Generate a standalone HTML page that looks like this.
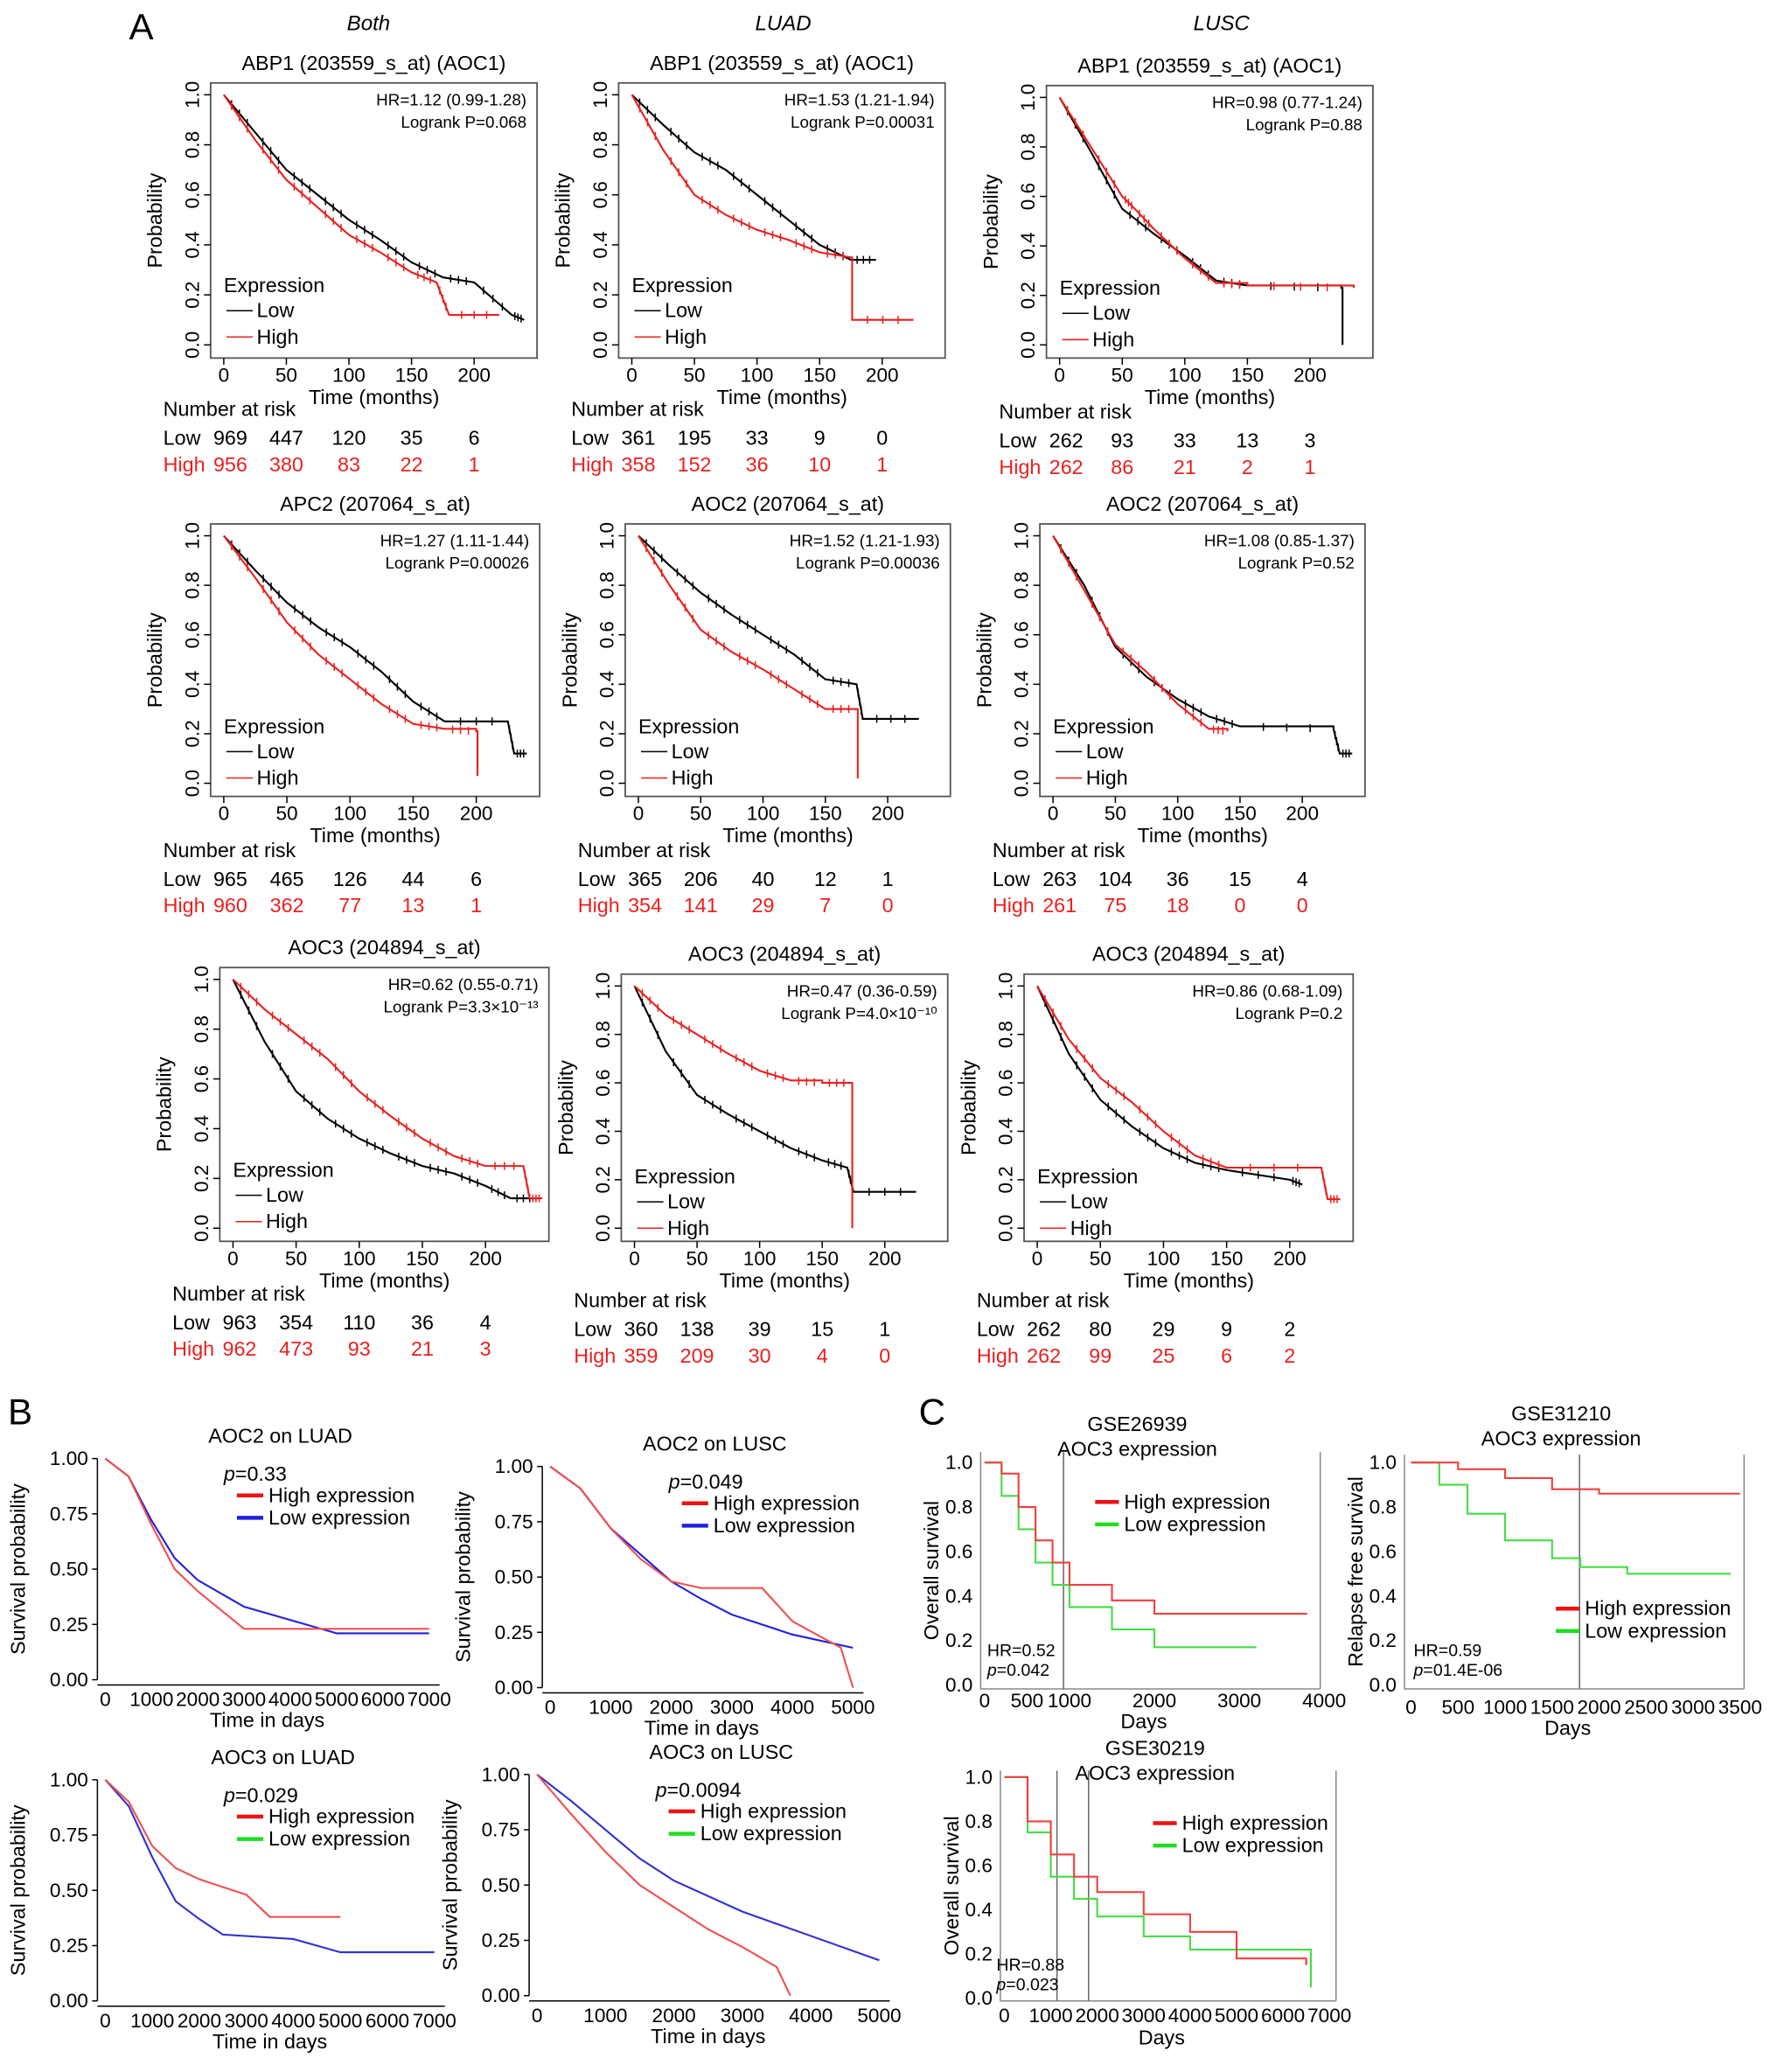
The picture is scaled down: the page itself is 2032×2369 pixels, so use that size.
<!DOCTYPE html>
<html><head><meta charset="utf-8"><style>
html,body{margin:0;padding:0;background:#fff}
svg{display:block;font-family:"Liberation Sans",sans-serif}
</style></head><body>
<svg id="fig" xmlns="http://www.w3.org/2000/svg" width="2032" height="2369" viewBox="0 0 1350 1574" preserveAspectRatio="none">
<text x="98" y="30" font-size="28">A</text>
<text x="280" y="23" font-size="16" font-style="italic" text-anchor="middle">Both</text>
<text x="595" y="23" font-size="16" font-style="italic" text-anchor="middle">LUAD</text>
<text x="928" y="23" font-size="16" font-style="italic" text-anchor="middle">LUSC</text>
<text x="6" y="1082" font-size="28">B</text>
<text x="698" y="1082" font-size="28">C</text>
</svg>
<script>
// ---- Panel A data (time months, survival) ----
const a11Low=[[0,1],[25,0.85],[50,0.7],[75,0.6],[100,0.5],[125,0.42],[150,0.33],[175,0.27],[200,0.25],[230,0.12],[240,0.1]];
const a11High=[[0,1],[25,0.82],[50,0.66],[75,0.55],[100,0.44],[125,0.37],[150,0.29],[170,0.25],[180,0.12],[220,0.12]];
const a12Low=[[0,1],[25,0.88],[50,0.77],[75,0.7],[100,0.6],[125,0.5],[150,0.4],[175,0.34],[195,0.34]];
const a12High=[[0,1],[25,0.78],[50,0.6],[75,0.52],[100,0.46],[125,0.42],[150,0.37],[175,0.35],[176,0.1],[225,0.1]];
const a13Low=[[0,1],[25,0.78],[50,0.55],[75,0.45],[100,0.36],[125,0.26],[150,0.24],[225,0.23],[226,0]];
const a13High=[[0,1],[25,0.8],[50,0.6],[60,0.55],[75,0.47],[100,0.35],[125,0.25],[150,0.24],[235,0.23]];
const a21Low=[[0,1],[25,0.86],[50,0.73],[75,0.63],[100,0.55],[125,0.45],[150,0.33],[175,0.25],[225,0.25],[230,0.12],[240,0.12]];
const a21High=[[0,1],[25,0.83],[50,0.65],[75,0.52],[100,0.42],[125,0.32],[150,0.24],[175,0.22],[200,0.21],[201,0.03]];
const a22Low=[[0,1],[25,0.88],[50,0.77],[75,0.68],[100,0.6],[125,0.52],[150,0.42],[175,0.4],[180,0.26],[225,0.26]];
const a22High=[[0,1],[25,0.8],[50,0.62],[75,0.53],[100,0.46],[125,0.38],[150,0.3],[175,0.3],[176,0.02]];
const a23Low=[[0,1],[25,0.8],[50,0.55],[75,0.43],[100,0.34],[125,0.27],[150,0.23],[225,0.22],[230,0.12],[240,0.12]];
const a23High=[[0,1],[25,0.78],[50,0.56],[75,0.45],[100,0.32],[125,0.22],[140,0.21]];
const a31Low=[[0,1],[25,0.75],[50,0.55],[75,0.44],[100,0.36],[125,0.3],[150,0.25],[175,0.22],[200,0.17],[220,0.12],[240,0.12]];
const a31High=[[0,1],[25,0.88],[50,0.78],[75,0.68],[100,0.55],[125,0.45],[150,0.36],[175,0.29],[200,0.25],[230,0.25],[235,0.12],[245,0.12]];
const a32Low=[[0,1],[25,0.73],[50,0.55],[75,0.47],[100,0.4],[125,0.33],[150,0.28],[170,0.25],[175,0.15],[225,0.15]];
const a32High=[[0,1],[25,0.88],[50,0.8],[75,0.72],[100,0.65],[125,0.61],[150,0.6],[173,0.6],[174,0]];
const a33Low=[[0,1],[25,0.72],[50,0.53],[75,0.42],[100,0.33],[125,0.27],[150,0.24],[200,0.2],[210,0.18]];
const a33High=[[0,1],[25,0.78],[50,0.62],[75,0.52],[100,0.4],[125,0.3],[150,0.25],[225,0.25],[230,0.12],[240,0.12]];
const riskLow=[[969,447,120,35,6],[361,195,33,9,0],[262,93,33,13,3],[965,465,126,44,6],[365,206,40,12,1],[263,104,36,15,4],[963,354,110,36,4],[360,138,39,15,1],[262,80,29,9,2]];
const riskHigh=[[956,380,83,22,1],[358,152,36,10,1],[262,86,21,2,1],[960,362,77,13,1],[354,141,29,7,0],[261,75,18,0,0],[962,473,93,21,3],[359,209,30,4,0],[262,99,25,6,2]];
const titlesA=["ABP1 (203559_s_at) (AOC1)","ABP1 (203559_s_at) (AOC1)","ABP1 (203559_s_at) (AOC1)","APC2 (207064_s_at)","AOC2 (207064_s_at)","AOC2 (207064_s_at)","AOC3 (204894_s_at)","AOC3 (204894_s_at)","AOC3 (204894_s_at)"];
const hrA=["HR=1.12 (0.99-1.28)","HR=1.53 (1.21-1.94)","HR=0.98 (0.77-1.24)","HR=1.27 (1.11-1.44)","HR=1.52 (1.21-1.93)","HR=1.08 (0.85-1.37)","HR=0.62 (0.55-0.71)","HR=0.47 (0.36-0.59)","HR=0.86 (0.68-1.09)"];
const pA=["Logrank P=0.068","Logrank P=0.00031","Logrank P=0.88","Logrank P=0.00026","Logrank P=0.00036","Logrank P=0.52","Logrank P=3.3\u00d710\u207b\u00b9\u00b3","Logrank P=4.0\u00d710\u207b\u00b9\u2070","Logrank P=0.2"];
const ticksA=[0,50,100,150,200];
const yTicksA=[0,0.2,0.4,0.6,0.8,1.0];
// ---- Panel B data (days) ----
const b1High=[[0,1],[500,0.92],[1000,0.7],[1500,0.5],[2000,0.4],[3000,0.23],[7000,0.23]];
const b1Low=[[0,1],[500,0.92],[1000,0.72],[1500,0.55],[2000,0.45],[3000,0.33],[5000,0.21],[7000,0.21]];
const b2High=[[0,1],[500,0.9],[1000,0.72],[1500,0.58],[2000,0.48],[2500,0.45],[3500,0.45],[4000,0.3],[4800,0.18],[5000,0]];
const b2Low=[[0,1],[500,0.9],[1000,0.72],[1500,0.6],[2000,0.48],[2500,0.4],[3000,0.33],[4000,0.24],[5000,0.18]];
const b3High=[[0,1],[500,0.9],[1000,0.7],[1500,0.6],[2000,0.55],[3000,0.48],[3500,0.38],[5000,0.38]];
const b3Low=[[0,1],[500,0.88],[1000,0.65],[1500,0.45],[2000,0.37],[2500,0.3],[4000,0.28],[5000,0.22],[7000,0.22]];
const b4High=[[0,1],[500,0.82],[1000,0.65],[1500,0.5],[2000,0.4],[2500,0.3],[3000,0.22],[3500,0.13],[3700,0]];
const b4Low=[[0,1],[500,0.88],[1000,0.75],[1500,0.62],[2000,0.52],[3000,0.38],[4000,0.27],[5000,0.16]];
// ---- Panel C data (days) ----
const c1High=[[0,1],[200,0.95],[400,0.8],[600,0.65],[800,0.55],[1000,0.45],[1500,0.38],[2000,0.32],[3800,0.32]];
const c1Low=[[0,1],[200,0.85],[400,0.7],[600,0.55],[800,0.45],[1000,0.35],[1500,0.25],[2000,0.17],[3200,0.17]];
const c2High=[[0,1],[500,0.97],[1000,0.93],[1500,0.88],[2000,0.86],[3500,0.86]];
const c2Low=[[0,1],[300,0.9],[600,0.77],[1000,0.65],[1500,0.57],[1800,0.53],[2300,0.5],[3400,0.5]];
const c3High=[[0,1],[500,0.8],[1000,0.65],[1500,0.55],[2000,0.48],[3000,0.38],[4000,0.3],[5000,0.18],[6500,0.15]];
const c3Low=[[0,1],[500,0.75],[1000,0.55],[1500,0.45],[2000,0.37],[3000,0.28],[4000,0.22],[5000,0.22],[6500,0.22],[6600,0.05]];

const svg=document.getElementById('fig');
const NS='http://www.w3.org/2000/svg';
function mk(tag,attrs,parent){const e=document.createElementNS(NS,tag);for(const k in attrs)e.setAttribute(k,attrs[k]);(parent||svg).appendChild(e);return e;}
function txt(x,y,s,size,anchor,fill,parent){const t=mk('text',{x:x,y:y,'font-size':size,'text-anchor':anchor||'start',fill:fill||'#000'},parent);t.textContent=s;return t;}
function curve(data,sx,sy,color,name,censor,smooth){
  let d='M'+sx(data[0][0])+' '+sy(data[0][1]);
  for(let i=1;i<data.length;i++){
    const gap=data[i][0]-data[i-1][0];
    const flat=Math.abs(data[i][1]-data[i-1][1])<0.015;
    if(smooth && !flat && gap>2){d+=' L'+sx(data[i][0])+' '+sy(data[i][1]);}
    else{d+=' H'+sx(data[i][0])+' V'+sy(data[i][1]);}
  }
  const p=mk('path',{d:d,fill:'none',stroke:color,'stroke-width':1.4});
  
  
  if(censor){for(let i=1;i<data.length;i++){
    const xa=data[i-1][0],xb=data[i][0],ya=data[i-1][1],yb=data[i][1];
    for(let k=1;k<=3;k++){const f=k/4;const tx=xa+(xb-xa)*f;const ty=smooth?ya+(yb-ya)*f:ya;
      if(xb-xa<3)continue;
      const x=sx(tx),y=sy(ty);
      const c=mk('path',{d:'M'+x+' '+(y-3)+' V'+(y+3),stroke:color,'stroke-width':1});
      
      }}}
}
// Panel A
const boxesA=[[160,63,248,209],[470,63,248,209],[795,65,248,207],[160,398,250,207],[475,398,247,207],[790,398,247,207],[167,735,250,208],[472,740,248,203],[778,740,250,203]];
const dataA=[[a11Low,a11High],[a12Low,a12High],[a13Low,a13High],[a21Low,a21High],[a22Low,a22High],[a23Low,a23High],[a31Low,a31High],[a32Low,a32High],[a33Low,a33High]];
boxesA.forEach((b,i)=>{
  const [bx,by,bw,bh]=b;
  const sx=v=>bx+10+v*(bw-15)/245, sy=v=>by+9+(1-v)*(bh-19);
  const r=mk('rect',{x:bx,y:by,width:bw,height:bh,fill:'none',stroke:'#555','stroke-width':1.2});
  
  
  const t=txt(bx+bw/2,by-10,titlesA[i],15.5,'middle');
  
  
  txt(bx+bw-8,by+17,hrA[i],12.5,'end');
  txt(bx+bw-8,by+34,pA[i],12.5,'end');
  ticksA.forEach(v=>{mk('line',{x1:sx(v),x2:sx(v),y1:by+bh,y2:by+bh+5,stroke:'#000'});txt(sx(v),by+bh+18,String(v),15,'middle');});
  yTicksA.forEach(v=>{mk('line',{x1:bx,x2:bx-5,y1:sy(v),y2:sy(v),stroke:'#000'});
    const tt=txt(0,0,v.toFixed(1),15,'middle');tt.setAttribute('transform','translate('+(bx-9)+','+sy(v)+') rotate(-90)');});
  const yl=txt(0,0,'Probability',15.5,'middle');yl.setAttribute('transform','translate('+(bx-37)+','+(by+bh/2)+') rotate(-90)');
  txt(sx(120),by+bh+35,'Time (months)',15.5,'middle');
  curve(dataA[i][0],sx,sy,'#000','plot-a'+(i+1)+'-low-curve',true,true);
  curve(dataA[i][1],sx,sy,'#e8211f','plot-a'+(i+1)+'-high-curve',true,true);
  txt(bx+10,by+159,'Expression',15.5);
  mk('line',{x1:bx+12,x2:bx+32,y1:by+173,y2:by+173,stroke:'#000'});txt(bx+35,by+178,'Low',15.5);
  mk('line',{x1:bx+12,x2:bx+32,y1:by+193,y2:by+193,stroke:'#e8211f'});txt(bx+35,by+198,'High',15.5);
  txt(bx-36,by+253,'Number at risk',15.5);
  txt(bx-36,by+275,'Low',15.5);txt(bx-36,by+295,'High',15.5,'start','#e8211f');
  ticksA.forEach((v,j)=>{txt(sx(v)+(j==0?5:0),by+275,String(riskLow[i][j]),15.5,'middle');txt(sx(v)+(j==0?5:0),by+295,String(riskHigh[i][j]),15.5,'middle','#e8211f');});
});
// Panel B
const B=[{x0:80,x1:326,y0:1276,y1:1108,xmax:7000,xt:[0,1000,2000,3000,4000,5000,6000,7000],t:'AOC2 on LUAD',p:'0.33',d:[b1High,b1Low],lc:'#2020e0'},
 {x0:418,x1:648,y0:1282,y1:1114,xmax:5000,xt:[0,1000,2000,3000,4000,5000],t:'AOC2 on LUSC',p:'0.049',d:[b2High,b2Low],lc:'#2020e0'},
 {x0:80,x1:330,y0:1520,y1:1352,xmax:7000,xt:[0,1000,2000,3000,4000,5000,6000,7000],t:'AOC3 on LUAD',p:'0.029',d:[b3High,b3Low],lc:'#22dd22',curveLc:'#3030d0'},
 {x0:408,x1:668,y0:1516,y1:1348,xmax:5000,xt:[0,1000,2000,3000,4000,5000],t:'AOC3 on LUSC',p:'0.0094',d:[b4High,b4Low],lc:'#22dd22',curveLc:'#3030d0'}];
B.forEach((o,i)=>{
  const sx=v=>o.x0+v*(o.x1-o.x0)/o.xmax, sy=v=>o.y0+v*(o.y1-o.y0);
  const ax=o.x0-6;
  mk('line',{x1:ax,x2:ax,y1:sy(1),y2:sy(0),stroke:'#000'});
  mk('line',{x1:ax,x2:o.x1+8,y1:o.y0+4,y2:o.y0+4,stroke:'#000'});
  [0,0.25,0.5,0.75,1].forEach(v=>{mk('line',{x1:ax,x2:ax-4,y1:sy(v),y2:sy(v),stroke:'#000'});txt(ax-7,sy(v)+5,v.toFixed(2),15,'end');});
  o.xt.forEach(v=>{txt(sx(v),o.y0+20,String(v),15,'middle');});
  const yl=txt(0,0,'Survival probability',15.5,'middle');yl.setAttribute('transform','translate('+(ax-55)+','+(sy(0.5))+') rotate(-90)');
  txt((o.x0+o.x1)/2,o.y0+36,'Time in days',15.5,'middle');
  const tt=txt((o.x0+o.x1)/2+10,o.y1-12,o.t,15.5,'middle');
  
  
  const pt=txt(o.x0+90,o.y1+17,'',15.5);pt.innerHTML='<tspan font-style="italic">p</tspan>='+o.p;
  curve(o.d[1],sx,sy,o.curveLc||o.lc,'plot-b'+(i+1)+'-low-curve',false,true);
  curve(o.d[0],sx,sy,'#f05050','plot-b'+(i+1)+'-high-curve',false,true);
  mk('line',{x1:o.x0+100,x2:o.x0+120,y1:o.y1+28,y2:o.y1+28,stroke:'#ee1111','stroke-width':3});txt(o.x0+124,o.y1+33,'High expression',15.5);
  mk('line',{x1:o.x0+100,x2:o.x0+120,y1:o.y1+45,y2:o.y1+45,stroke:o.lc,'stroke-width':3});txt(o.x0+124,o.y1+50,'Low expression',15.5);
});
// Panel C
const C=[{bx:745,by:1103,bw:258,bh:180,x0:748,x1:1006,y0:1280,y1:1111,xmax:4000,xt:[0,500,1000,2000,3000,4000],t1:'GSE26939',to:[-16,3],yl:'Overall survival',hr:'HR=0.52',p:'0.042',d:[c1High,c1Low],lg:[832,1141],vl:[808],hx:750,hy:1258,ty:14,dy:30},
 {bx:1067,by:1105,bw:258,bh:178,x0:1072,x1:1322,y0:1280,y1:1111,xmax:3500,xt:[0,500,1000,1500,2000,2500,3000,3500],t1:'GSE31210',to:[-26,-7],yl:'Relapse free survival',hr:'HR=0.59',p:'01.4E-06',d:[c2High,c2Low],lg:[1182,1222],vl:[1200],hx:1074,hy:1258,ty:19,dy:35},
 {bx:760,by:1345,bw:255,bh:175,x0:763,x1:1010,y0:1518,y1:1350,xmax:7000,xt:[0,1000,2000,3000,4000,5000,6000,7000],t1:'GSE30219',to:[-12,7],yl:'Overall survival',hr:'HR=0.88',p:'0.023',d:[c3High,c3Low],lg:[876,1385],vl:[803,827],hx:757,hy:1497,ty:16,dy:33}];
C.forEach((o,i)=>{
  const sx=v=>o.x0+v*(o.x1-o.x0)/o.xmax, sy=v=>o.y0+v*(o.y1-o.y0);
  mk('path',{d:'M'+o.bx+' '+o.by+' V'+(o.by+o.bh)+' H'+(o.bx+o.bw)+' M'+(o.bx+o.bw)+' '+o.by+' V'+(o.by+o.bh),fill:'none',stroke:'#888'});
  o.vl.forEach(x=>mk('line',{x1:x,x2:x,y1:o.by,y2:o.by+o.bh,stroke:'#666'}));
  [0,0.2,0.4,0.6,0.8,1].forEach(v=>{txt(o.bx-6,sy(v)+5,v.toFixed(1),15,'end');});
  o.xt.forEach(v=>{txt(sx(v),o.by+o.bh+o.ty,String(v),15,'middle');});
  const yl=txt(0,0,o.yl,15.5,'middle');yl.setAttribute('transform','translate('+(o.bx-32)+','+(o.by+o.bh/2)+') rotate(-90)');
  txt(o.bx+o.bw/2-5,o.by+o.bh+o.dy,'Days',15.5,'middle');
  const t=txt(o.bx+o.bw/2-10,o.by+o.to[0],o.t1,15.5,'middle');
  
  
  txt(o.bx+o.bw/2-10,o.by+o.to[1],'AOC3 expression',15.5,'middle');
  curve(o.d[1],sx,sy,'#44dd44','plot-c'+(i+1)+'-low-curve',false,false);
  curve(o.d[0],sx,sy,'#f04040','plot-c'+(i+1)+'-high-curve',false,false);
  const [lx,ly]=o.lg;
  mk('line',{x1:lx,x2:lx+18,y1:ly,y2:ly,stroke:'#ee1111','stroke-width':3});txt(lx+22,ly+5,'High expression',15.5);
  mk('line',{x1:lx,x2:lx+18,y1:ly+17,y2:ly+17,stroke:'#22dd22','stroke-width':3});txt(lx+22,ly+22,'Low expression',15.5);
  txt(o.hx,o.hy,o.hr,13);
  const pt=txt(o.hx,o.hy+15,'',13);pt.innerHTML='<tspan font-style="italic">p</tspan>='+o.p;
});
</script>
</body></html>
